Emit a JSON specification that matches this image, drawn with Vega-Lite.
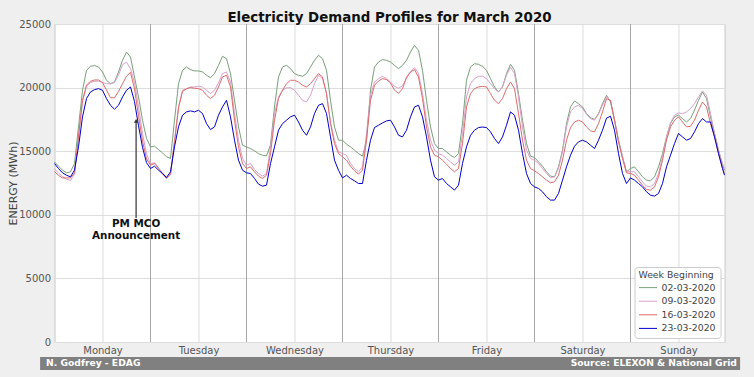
{
"$schema": "https://vega.github.io/schema/vega-lite/v6.json",
"width": 670, "height": 318,
"autosize": {"type": "none"},
"padding": {"left": 54.5, "top": 24, "right": 29.5, "bottom": 35},
"background": "#efefef",
"config": {"font": "DejaVu Sans", "view": {"fill": "white", "stroke": "#c8c8c8"}},
"title": {"text": "Electricity Demand Profiles for March 2020", "font": "DejaVu Sans", "fontSize": 13.4, "fontWeight": "bold", "color": "#111111", "anchor": "middle", "offset": -5},
"datasets": {
"demand": [
{"w":"02-03-2020","h":0,"v":14160},{"w":"02-03-2020","h":1,"v":13820},{"w":"02-03-2020","h":2,"v":13510},{"w":"02-03-2020","h":3,"v":13300},{"w":"02-03-2020","h":4,"v":13380},{"w":"02-03-2020","h":5,"v":14030},{"w":"02-03-2020","h":6,"v":16910},{"w":"02-03-2020","h":7,"v":19790},{"w":"02-03-2020","h":8,"v":21360},{"w":"02-03-2020","h":9,"v":21670},{"w":"02-03-2020","h":10,"v":21730},{"w":"02-03-2020","h":11,"v":21620},{"w":"02-03-2020","h":12,"v":21230},{"w":"02-03-2020","h":13,"v":20575},{"w":"02-03-2020","h":14,"v":20310},{"w":"02-03-2020","h":15,"v":20440},{"w":"02-03-2020","h":16,"v":21230},{"w":"02-03-2020","h":17,"v":22145},{"w":"02-03-2020","h":18,"v":22800},{"w":"02-03-2020","h":19,"v":22400},{"w":"02-03-2020","h":20,"v":20835},{"w":"02-03-2020","h":21,"v":19265},{"w":"02-03-2020","h":22,"v":17435},{"w":"02-03-2020","h":23,"v":16000},
{"w":"02-03-2020","h":24,"v":15340},{"w":"02-03-2020","h":25,"v":15390},{"w":"02-03-2020","h":26,"v":15130},{"w":"02-03-2020","h":27,"v":14870},{"w":"02-03-2020","h":28,"v":14555},{"w":"02-03-2020","h":29,"v":14425},{"w":"02-03-2020","h":30,"v":17435},{"w":"02-03-2020","h":31,"v":20310},{"w":"02-03-2020","h":32,"v":21360},{"w":"02-03-2020","h":33,"v":21620},{"w":"02-03-2020","h":34,"v":21410},{"w":"02-03-2020","h":35,"v":21310},{"w":"02-03-2020","h":36,"v":21310},{"w":"02-03-2020","h":37,"v":21230},{"w":"02-03-2020","h":38,"v":20970},{"w":"02-03-2020","h":39,"v":20785},{"w":"02-03-2020","h":40,"v":21100},{"w":"02-03-2020","h":41,"v":21750},{"w":"02-03-2020","h":42,"v":22460},{"w":"02-03-2020","h":43,"v":22275},{"w":"02-03-2020","h":44,"v":21100},{"w":"02-03-2020","h":45,"v":19000},{"w":"02-03-2020","h":46,"v":16910},{"w":"02-03-2020","h":47,"v":15470},
{"w":"02-03-2020","h":48,"v":15340},{"w":"02-03-2020","h":49,"v":15210},{"w":"02-03-2020","h":50,"v":15025},{"w":"02-03-2020","h":51,"v":14815},{"w":"02-03-2020","h":52,"v":14685},{"w":"02-03-2020","h":53,"v":14630},{"w":"02-03-2020","h":54,"v":15500},{"w":"02-03-2020","h":55,"v":18480},{"w":"02-03-2020","h":56,"v":20835},{"w":"02-03-2020","h":57,"v":21620},{"w":"02-03-2020","h":58,"v":21750},{"w":"02-03-2020","h":59,"v":21490},{"w":"02-03-2020","h":60,"v":21100},{"w":"02-03-2020","h":61,"v":20970},{"w":"02-03-2020","h":62,"v":20890},{"w":"02-03-2020","h":63,"v":21100},{"w":"02-03-2020","h":64,"v":21620},{"w":"02-03-2020","h":65,"v":22145},{"w":"02-03-2020","h":66,"v":22540},{"w":"02-03-2020","h":67,"v":22275},{"w":"02-03-2020","h":68,"v":21360},{"w":"02-03-2020","h":69,"v":19000},{"w":"02-03-2020","h":70,"v":16910},{"w":"02-03-2020","h":71,"v":15865},
{"w":"02-03-2020","h":72,"v":15865},{"w":"02-03-2020","h":73,"v":15550},{"w":"02-03-2020","h":74,"v":15340},{"w":"02-03-2020","h":75,"v":15080},{"w":"02-03-2020","h":76,"v":14815},{"w":"02-03-2020","h":77,"v":14610},{"w":"02-03-2020","h":78,"v":15865},{"w":"02-03-2020","h":79,"v":19790},{"w":"02-03-2020","h":80,"v":21620},{"w":"02-03-2020","h":81,"v":22015},{"w":"02-03-2020","h":82,"v":22200},{"w":"02-03-2020","h":83,"v":22145},{"w":"02-03-2020","h":84,"v":22015},{"w":"02-03-2020","h":85,"v":21750},{"w":"02-03-2020","h":86,"v":21490},{"w":"02-03-2020","h":87,"v":21750},{"w":"02-03-2020","h":88,"v":22145},{"w":"02-03-2020","h":89,"v":22800},{"w":"02-03-2020","h":90,"v":23320},{"w":"02-03-2020","h":91,"v":22930},{"w":"02-03-2020","h":92,"v":21360},{"w":"02-03-2020","h":93,"v":19000},{"w":"02-03-2020","h":94,"v":16910},{"w":"02-03-2020","h":95,"v":15600},
{"w":"02-03-2020","h":96,"v":15210},{"w":"02-03-2020","h":97,"v":15210},{"w":"02-03-2020","h":98,"v":14950},{"w":"02-03-2020","h":99,"v":14685},{"w":"02-03-2020","h":100,"v":14500},{"w":"02-03-2020","h":101,"v":14815},{"w":"02-03-2020","h":102,"v":17170},{"w":"02-03-2020","h":103,"v":20575},{"w":"02-03-2020","h":104,"v":21620},{"w":"02-03-2020","h":105,"v":21880},{"w":"02-03-2020","h":106,"v":21830},{"w":"02-03-2020","h":107,"v":21670},{"w":"02-03-2020","h":108,"v":21360},{"w":"02-03-2020","h":109,"v":20705},{"w":"02-03-2020","h":110,"v":20050},{"w":"02-03-2020","h":111,"v":19660},{"w":"02-03-2020","h":112,"v":20050},{"w":"02-03-2020","h":113,"v":21100},{"w":"02-03-2020","h":114,"v":21830},{"w":"02-03-2020","h":115,"v":21360},{"w":"02-03-2020","h":116,"v":19530},{"w":"02-03-2020","h":117,"v":17435},{"w":"02-03-2020","h":118,"v":15600},{"w":"02-03-2020","h":119,"v":14610},
{"w":"02-03-2020","h":120,"v":14500},{"w":"02-03-2020","h":121,"v":14160},{"w":"02-03-2020","h":122,"v":13820},{"w":"02-03-2020","h":123,"v":13380},{"w":"02-03-2020","h":124,"v":13040},{"w":"02-03-2020","h":125,"v":12985},{"w":"02-03-2020","h":126,"v":13770},{"w":"02-03-2020","h":127,"v":15080},{"w":"02-03-2020","h":128,"v":17170},{"w":"02-03-2020","h":129,"v":18480},{"w":"02-03-2020","h":130,"v":18950},{"w":"02-03-2020","h":131,"v":18740},{"w":"02-03-2020","h":132,"v":18480},{"w":"02-03-2020","h":133,"v":17960},{"w":"02-03-2020","h":134,"v":17640},{"w":"02-03-2020","h":135,"v":17490},{"w":"02-03-2020","h":136,"v":17960},{"w":"02-03-2020","h":137,"v":18740},{"w":"02-03-2020","h":138,"v":19400},{"w":"02-03-2020","h":139,"v":18870},{"w":"02-03-2020","h":140,"v":17435},{"w":"02-03-2020","h":141,"v":15865},{"w":"02-03-2020","h":142,"v":14555},{"w":"02-03-2020","h":143,"v":13380},
{"w":"02-03-2020","h":144,"v":13640},{"w":"02-03-2020","h":145,"v":13770},{"w":"02-03-2020","h":146,"v":13380},{"w":"02-03-2020","h":147,"v":12985},{"w":"02-03-2020","h":148,"v":12725},{"w":"02-03-2020","h":149,"v":12670},{"w":"02-03-2020","h":150,"v":12985},{"w":"02-03-2020","h":151,"v":13770},{"w":"02-03-2020","h":152,"v":14815},{"w":"02-03-2020","h":153,"v":16125},{"w":"02-03-2020","h":154,"v":17170},{"w":"02-03-2020","h":155,"v":17700},{"w":"02-03-2020","h":156,"v":17830},{"w":"02-03-2020","h":157,"v":17565},{"w":"02-03-2020","h":158,"v":17300},{"w":"02-03-2020","h":159,"v":17565},{"w":"02-03-2020","h":160,"v":18220},{"w":"02-03-2020","h":161,"v":19000},{"w":"02-03-2020","h":162,"v":19660},{"w":"02-03-2020","h":163,"v":19135},{"w":"02-03-2020","h":164,"v":17700},{"w":"02-03-2020","h":165,"v":16390},{"w":"02-03-2020","h":166,"v":15080},{"w":"02-03-2020","h":167,"v":13900},{"w":"02-03-2020","h":167.5,"v":13510},
{"w":"09-03-2020","h":0,"v":13600},{"w":"09-03-2020","h":1,"v":13300},{"w":"09-03-2020","h":2,"v":13000},{"w":"09-03-2020","h":3,"v":12800},{"w":"09-03-2020","h":4,"v":12700},{"w":"09-03-2020","h":5,"v":13200},{"w":"09-03-2020","h":6,"v":16000},{"w":"09-03-2020","h":7,"v":18900},{"w":"09-03-2020","h":8,"v":20100},{"w":"09-03-2020","h":9,"v":20400},{"w":"09-03-2020","h":10,"v":20500},{"w":"09-03-2020","h":11,"v":20500},{"w":"09-03-2020","h":12,"v":20400},{"w":"09-03-2020","h":13,"v":20300},{"w":"09-03-2020","h":14,"v":20300},{"w":"09-03-2020","h":15,"v":20400},{"w":"09-03-2020","h":16,"v":21000},{"w":"09-03-2020","h":17,"v":21800},{"w":"09-03-2020","h":18,"v":22000},{"w":"09-03-2020","h":19,"v":21500},{"w":"09-03-2020","h":20,"v":20400},{"w":"09-03-2020","h":21,"v":18500},{"w":"09-03-2020","h":22,"v":16400},{"w":"09-03-2020","h":23,"v":14800},
{"w":"09-03-2020","h":24,"v":14000},{"w":"09-03-2020","h":25,"v":14100},{"w":"09-03-2020","h":26,"v":13700},{"w":"09-03-2020","h":27,"v":13300},{"w":"09-03-2020","h":28,"v":12950},{"w":"09-03-2020","h":29,"v":13250},{"w":"09-03-2020","h":30,"v":15865},{"w":"09-03-2020","h":31,"v":18480},{"w":"09-03-2020","h":32,"v":19790},{"w":"09-03-2020","h":33,"v":19920},{"w":"09-03-2020","h":34,"v":20050},{"w":"09-03-2020","h":35,"v":20050},{"w":"09-03-2020","h":36,"v":20100},{"w":"09-03-2020","h":37,"v":20050},{"w":"09-03-2020","h":38,"v":19790},{"w":"09-03-2020","h":39,"v":19530},{"w":"09-03-2020","h":40,"v":19790},{"w":"09-03-2020","h":41,"v":20365},{"w":"09-03-2020","h":42,"v":21100},{"w":"09-03-2020","h":43,"v":21230},{"w":"09-03-2020","h":44,"v":20440},{"w":"09-03-2020","h":45,"v":17960},{"w":"09-03-2020","h":46,"v":15865},{"w":"09-03-2020","h":47,"v":14425},
{"w":"09-03-2020","h":48,"v":13900},{"w":"09-03-2020","h":49,"v":14030},{"w":"09-03-2020","h":50,"v":13560},{"w":"09-03-2020","h":51,"v":13250},{"w":"09-03-2020","h":52,"v":13040},{"w":"09-03-2020","h":53,"v":13250},{"w":"09-03-2020","h":54,"v":15340},{"w":"09-03-2020","h":55,"v":17960},{"w":"09-03-2020","h":56,"v":19265},{"w":"09-03-2020","h":57,"v":19790},{"w":"09-03-2020","h":58,"v":19970},{"w":"09-03-2020","h":59,"v":20000},{"w":"09-03-2020","h":60,"v":19790},{"w":"09-03-2020","h":61,"v":19400},{"w":"09-03-2020","h":62,"v":19000},{"w":"09-03-2020","h":63,"v":18870},{"w":"09-03-2020","h":64,"v":19400},{"w":"09-03-2020","h":65,"v":20310},{"w":"09-03-2020","h":66,"v":20970},{"w":"09-03-2020","h":67,"v":20705},{"w":"09-03-2020","h":68,"v":19530},{"w":"09-03-2020","h":69,"v":17300},{"w":"09-03-2020","h":70,"v":15865},{"w":"09-03-2020","h":71,"v":14945},
{"w":"09-03-2020","h":72,"v":14815},{"w":"09-03-2020","h":73,"v":14685},{"w":"09-03-2020","h":74,"v":14030},{"w":"09-03-2020","h":75,"v":13640},{"w":"09-03-2020","h":76,"v":13380},{"w":"09-03-2020","h":77,"v":13770},{"w":"09-03-2020","h":78,"v":16390},{"w":"09-03-2020","h":79,"v":19400},{"w":"09-03-2020","h":80,"v":20440},{"w":"09-03-2020","h":81,"v":20705},{"w":"09-03-2020","h":82,"v":20890},{"w":"09-03-2020","h":83,"v":20705},{"w":"09-03-2020","h":84,"v":20440},{"w":"09-03-2020","h":85,"v":20100},{"w":"09-03-2020","h":86,"v":19950},{"w":"09-03-2020","h":87,"v":20150},{"w":"09-03-2020","h":88,"v":20705},{"w":"09-03-2020","h":89,"v":21230},{"w":"09-03-2020","h":90,"v":21570},{"w":"09-03-2020","h":91,"v":21100},{"w":"09-03-2020","h":92,"v":19530},{"w":"09-03-2020","h":93,"v":17435},{"w":"09-03-2020","h":94,"v":15865},{"w":"09-03-2020","h":95,"v":15080},
{"w":"09-03-2020","h":96,"v":14815},{"w":"09-03-2020","h":97,"v":14685},{"w":"09-03-2020","h":98,"v":14425},{"w":"09-03-2020","h":99,"v":14160},{"w":"09-03-2020","h":100,"v":13900},{"w":"09-03-2020","h":101,"v":14160},{"w":"09-03-2020","h":102,"v":16390},{"w":"09-03-2020","h":103,"v":19265},{"w":"09-03-2020","h":104,"v":20310},{"w":"09-03-2020","h":105,"v":20705},{"w":"09-03-2020","h":106,"v":20890},{"w":"09-03-2020","h":107,"v":20900},{"w":"09-03-2020","h":108,"v":20705},{"w":"09-03-2020","h":109,"v":20310},{"w":"09-03-2020","h":110,"v":19920},{"w":"09-03-2020","h":111,"v":19660},{"w":"09-03-2020","h":112,"v":20050},{"w":"09-03-2020","h":113,"v":20970},{"w":"09-03-2020","h":114,"v":21600},{"w":"09-03-2020","h":115,"v":21100},{"w":"09-03-2020","h":116,"v":19265},{"w":"09-03-2020","h":117,"v":16910},{"w":"09-03-2020","h":118,"v":15080},{"w":"09-03-2020","h":119,"v":14425},
{"w":"09-03-2020","h":120,"v":14290},{"w":"09-03-2020","h":121,"v":14030},{"w":"09-03-2020","h":122,"v":13640},{"w":"09-03-2020","h":123,"v":13250},{"w":"09-03-2020","h":124,"v":12930},{"w":"09-03-2020","h":125,"v":12985},{"w":"09-03-2020","h":126,"v":13640},{"w":"09-03-2020","h":127,"v":14950},{"w":"09-03-2020","h":128,"v":16910},{"w":"09-03-2020","h":129,"v":18090},{"w":"09-03-2020","h":130,"v":18480},{"w":"09-03-2020","h":131,"v":18610},{"w":"09-03-2020","h":132,"v":18350},{"w":"09-03-2020","h":133,"v":17905},{"w":"09-03-2020","h":134,"v":17565},{"w":"09-03-2020","h":135,"v":17435},{"w":"09-03-2020","h":136,"v":17905},{"w":"09-03-2020","h":137,"v":18610},{"w":"09-03-2020","h":138,"v":19265},{"w":"09-03-2020","h":139,"v":19000},{"w":"09-03-2020","h":140,"v":17490},{"w":"09-03-2020","h":141,"v":15865},{"w":"09-03-2020","h":142,"v":14555},{"w":"09-03-2020","h":143,"v":13380},
{"w":"09-03-2020","h":144,"v":13380},{"w":"09-03-2020","h":145,"v":13380},{"w":"09-03-2020","h":146,"v":12985},{"w":"09-03-2020","h":147,"v":12590},{"w":"09-03-2020","h":148,"v":12250},{"w":"09-03-2020","h":149,"v":12200},{"w":"09-03-2020","h":150,"v":12460},{"w":"09-03-2020","h":151,"v":13250},{"w":"09-03-2020","h":152,"v":14555},{"w":"09-03-2020","h":153,"v":16125},{"w":"09-03-2020","h":154,"v":17225},{"w":"09-03-2020","h":155,"v":17830},{"w":"09-03-2020","h":156,"v":18010},{"w":"09-03-2020","h":157,"v":17960},{"w":"09-03-2020","h":158,"v":18090},{"w":"09-03-2020","h":159,"v":18350},{"w":"09-03-2020","h":160,"v":18740},{"w":"09-03-2020","h":161,"v":19265},{"w":"09-03-2020","h":162,"v":19740},{"w":"09-03-2020","h":163,"v":19400},{"w":"09-03-2020","h":164,"v":17960},{"w":"09-03-2020","h":165,"v":16390},{"w":"09-03-2020","h":166,"v":15080},{"w":"09-03-2020","h":167,"v":14030},{"w":"09-03-2020","h":167.5,"v":13640},
{"w":"16-03-2020","h":0,"v":13400},{"w":"16-03-2020","h":1,"v":13100},{"w":"16-03-2020","h":2,"v":12900},{"w":"16-03-2020","h":3,"v":12900},{"w":"16-03-2020","h":4,"v":12900},{"w":"16-03-2020","h":5,"v":13300},{"w":"16-03-2020","h":6,"v":16200},{"w":"16-03-2020","h":7,"v":19000},{"w":"16-03-2020","h":8,"v":20200},{"w":"16-03-2020","h":9,"v":20500},{"w":"16-03-2020","h":10,"v":20600},{"w":"16-03-2020","h":11,"v":20600},{"w":"16-03-2020","h":12,"v":20400},{"w":"16-03-2020","h":13,"v":19800},{"w":"16-03-2020","h":14,"v":19200},{"w":"16-03-2020","h":15,"v":19200},{"w":"16-03-2020","h":16,"v":19700},{"w":"16-03-2020","h":17,"v":20300},{"w":"16-03-2020","h":18,"v":20900},{"w":"16-03-2020","h":19,"v":21200},{"w":"16-03-2020","h":20,"v":19900},{"w":"16-03-2020","h":21,"v":17800},{"w":"16-03-2020","h":22,"v":15800},{"w":"16-03-2020","h":23,"v":14400},
{"w":"16-03-2020","h":24,"v":13900},{"w":"16-03-2020","h":25,"v":14030},{"w":"16-03-2020","h":26,"v":13640},{"w":"16-03-2020","h":27,"v":13200},{"w":"16-03-2020","h":28,"v":12850},{"w":"16-03-2020","h":29,"v":13150},{"w":"16-03-2020","h":30,"v":15700},{"w":"16-03-2020","h":31,"v":18400},{"w":"16-03-2020","h":32,"v":19700},{"w":"16-03-2020","h":33,"v":19900},{"w":"16-03-2020","h":34,"v":20000},{"w":"16-03-2020","h":35,"v":19950},{"w":"16-03-2020","h":36,"v":19920},{"w":"16-03-2020","h":37,"v":19790},{"w":"16-03-2020","h":38,"v":19400},{"w":"16-03-2020","h":39,"v":19135},{"w":"16-03-2020","h":40,"v":19400},{"w":"16-03-2020","h":41,"v":20050},{"w":"16-03-2020","h":42,"v":20835},{"w":"16-03-2020","h":43,"v":20970},{"w":"16-03-2020","h":44,"v":20050},{"w":"16-03-2020","h":45,"v":17435},{"w":"16-03-2020","h":46,"v":15340},{"w":"16-03-2020","h":47,"v":14030},
{"w":"16-03-2020","h":48,"v":13640},{"w":"16-03-2020","h":49,"v":13770},{"w":"16-03-2020","h":50,"v":13380},{"w":"16-03-2020","h":51,"v":13040},{"w":"16-03-2020","h":52,"v":12855},{"w":"16-03-2020","h":53,"v":13110},{"w":"16-03-2020","h":54,"v":14815},{"w":"16-03-2020","h":55,"v":17435},{"w":"16-03-2020","h":56,"v":19135},{"w":"16-03-2020","h":57,"v":19790},{"w":"16-03-2020","h":58,"v":20310},{"w":"16-03-2020","h":59,"v":20575},{"w":"16-03-2020","h":60,"v":20575},{"w":"16-03-2020","h":61,"v":20440},{"w":"16-03-2020","h":62,"v":20180},{"w":"16-03-2020","h":63,"v":20050},{"w":"16-03-2020","h":64,"v":20310},{"w":"16-03-2020","h":65,"v":20705},{"w":"16-03-2020","h":66,"v":21100},{"w":"16-03-2020","h":67,"v":20835},{"w":"16-03-2020","h":68,"v":19530},{"w":"16-03-2020","h":69,"v":17170},{"w":"16-03-2020","h":70,"v":15600},{"w":"16-03-2020","h":71,"v":14815},
{"w":"16-03-2020","h":72,"v":14555},{"w":"16-03-2020","h":73,"v":14290},{"w":"16-03-2020","h":74,"v":13820},{"w":"16-03-2020","h":75,"v":13460},{"w":"16-03-2020","h":76,"v":13195},{"w":"16-03-2020","h":77,"v":13510},{"w":"16-03-2020","h":78,"v":15865},{"w":"16-03-2020","h":79,"v":19000},{"w":"16-03-2020","h":80,"v":20180},{"w":"16-03-2020","h":81,"v":20525},{"w":"16-03-2020","h":82,"v":20705},{"w":"16-03-2020","h":83,"v":20630},{"w":"16-03-2020","h":84,"v":20365},{"w":"16-03-2020","h":85,"v":19800},{"w":"16-03-2020","h":86,"v":19550},{"w":"16-03-2020","h":87,"v":19900},{"w":"16-03-2020","h":88,"v":20835},{"w":"16-03-2020","h":89,"v":21230},{"w":"16-03-2020","h":90,"v":21410},{"w":"16-03-2020","h":91,"v":20835},{"w":"16-03-2020","h":92,"v":19135},{"w":"16-03-2020","h":93,"v":16910},{"w":"16-03-2020","h":94,"v":15340},{"w":"16-03-2020","h":95,"v":14685},
{"w":"16-03-2020","h":96,"v":14555},{"w":"16-03-2020","h":97,"v":14290},{"w":"16-03-2020","h":98,"v":13980},{"w":"16-03-2020","h":99,"v":13640},{"w":"16-03-2020","h":100,"v":13380},{"w":"16-03-2020","h":101,"v":13640},{"w":"16-03-2020","h":102,"v":15600},{"w":"16-03-2020","h":103,"v":18480},{"w":"16-03-2020","h":104,"v":19530},{"w":"16-03-2020","h":105,"v":19920},{"w":"16-03-2020","h":106,"v":20050},{"w":"16-03-2020","h":107,"v":20100},{"w":"16-03-2020","h":108,"v":20050},{"w":"16-03-2020","h":109,"v":19530},{"w":"16-03-2020","h":110,"v":19000},{"w":"16-03-2020","h":111,"v":18740},{"w":"16-03-2020","h":112,"v":19135},{"w":"16-03-2020","h":113,"v":19920},{"w":"16-03-2020","h":114,"v":20440},{"w":"16-03-2020","h":115,"v":19920},{"w":"16-03-2020","h":116,"v":17960},{"w":"16-03-2020","h":117,"v":15865},{"w":"16-03-2020","h":118,"v":14290},{"w":"16-03-2020","h":119,"v":13640},
{"w":"16-03-2020","h":120,"v":13460},{"w":"16-03-2020","h":121,"v":13250},{"w":"16-03-2020","h":122,"v":12985},{"w":"16-03-2020","h":123,"v":12725},{"w":"16-03-2020","h":124,"v":12515},{"w":"16-03-2020","h":125,"v":12590},{"w":"16-03-2020","h":126,"v":13110},{"w":"16-03-2020","h":127,"v":14290},{"w":"16-03-2020","h":128,"v":15865},{"w":"16-03-2020","h":129,"v":16860},{"w":"16-03-2020","h":130,"v":17300},{"w":"16-03-2020","h":131,"v":17435},{"w":"16-03-2020","h":132,"v":17300},{"w":"16-03-2020","h":133,"v":16910},{"w":"16-03-2020","h":134,"v":16600},{"w":"16-03-2020","h":135,"v":16520},{"w":"16-03-2020","h":136,"v":17170},{"w":"16-03-2020","h":137,"v":18090},{"w":"16-03-2020","h":138,"v":19135},{"w":"16-03-2020","h":139,"v":19000},{"w":"16-03-2020","h":140,"v":17435},{"w":"16-03-2020","h":141,"v":15735},{"w":"16-03-2020","h":142,"v":14425},{"w":"16-03-2020","h":143,"v":13300},
{"w":"16-03-2020","h":144,"v":13250},{"w":"16-03-2020","h":145,"v":13115},{"w":"16-03-2020","h":146,"v":12725},{"w":"16-03-2020","h":147,"v":12330},{"w":"16-03-2020","h":148,"v":11990},{"w":"16-03-2020","h":149,"v":11940},{"w":"16-03-2020","h":150,"v":12200},{"w":"16-03-2020","h":151,"v":12985},{"w":"16-03-2020","h":152,"v":14290},{"w":"16-03-2020","h":153,"v":15865},{"w":"16-03-2020","h":154,"v":16910},{"w":"16-03-2020","h":155,"v":17435},{"w":"16-03-2020","h":156,"v":17700},{"w":"16-03-2020","h":157,"v":17300},{"w":"16-03-2020","h":158,"v":16910},{"w":"16-03-2020","h":159,"v":16960},{"w":"16-03-2020","h":160,"v":17435},{"w":"16-03-2020","h":161,"v":18220},{"w":"16-03-2020","h":162,"v":18870},{"w":"16-03-2020","h":163,"v":18480},{"w":"16-03-2020","h":164,"v":17170},{"w":"16-03-2020","h":165,"v":16125},{"w":"16-03-2020","h":166,"v":14815},{"w":"16-03-2020","h":167,"v":13640},{"w":"16-03-2020","h":167.5,"v":13250},
{"w":"23-03-2020","h":0,"v":14030},{"w":"23-03-2020","h":1,"v":13640},{"w":"23-03-2020","h":2,"v":13300},{"w":"23-03-2020","h":3,"v":13110},{"w":"23-03-2020","h":4,"v":12985},{"w":"23-03-2020","h":5,"v":13510},{"w":"23-03-2020","h":6,"v":15340},{"w":"23-03-2020","h":7,"v":17700},{"w":"23-03-2020","h":8,"v":19135},{"w":"23-03-2020","h":9,"v":19660},{"w":"23-03-2020","h":10,"v":19840},{"w":"23-03-2020","h":11,"v":19920},{"w":"23-03-2020","h":12,"v":19790},{"w":"23-03-2020","h":13,"v":19135},{"w":"23-03-2020","h":14,"v":18610},{"w":"23-03-2020","h":15,"v":18300},{"w":"23-03-2020","h":16,"v":18610},{"w":"23-03-2020","h":17,"v":19265},{"w":"23-03-2020","h":18,"v":19790},{"w":"23-03-2020","h":19,"v":20050},{"w":"23-03-2020","h":20,"v":18900},{"w":"23-03-2020","h":21,"v":17000},{"w":"23-03-2020","h":22,"v":15300},{"w":"23-03-2020","h":23,"v":14100},
{"w":"23-03-2020","h":24,"v":13640},{"w":"23-03-2020","h":25,"v":13820},{"w":"23-03-2020","h":26,"v":13510},{"w":"23-03-2020","h":27,"v":13250},{"w":"23-03-2020","h":28,"v":12930},{"w":"23-03-2020","h":29,"v":13380},{"w":"23-03-2020","h":30,"v":15340},{"w":"23-03-2020","h":31,"v":16910},{"w":"23-03-2020","h":32,"v":17830},{"w":"23-03-2020","h":33,"v":18090},{"w":"23-03-2020","h":34,"v":18170},{"w":"23-03-2020","h":35,"v":18090},{"w":"23-03-2020","h":36,"v":18220},{"w":"23-03-2020","h":37,"v":17960},{"w":"23-03-2020","h":38,"v":17170},{"w":"23-03-2020","h":39,"v":16700},{"w":"23-03-2020","h":40,"v":16910},{"w":"23-03-2020","h":41,"v":17830},{"w":"23-03-2020","h":42,"v":18480},{"w":"23-03-2020","h":43,"v":19000},{"w":"23-03-2020","h":44,"v":17700},{"w":"23-03-2020","h":45,"v":15865},{"w":"23-03-2020","h":46,"v":14290},{"w":"23-03-2020","h":47,"v":13510},
{"w":"23-03-2020","h":48,"v":13300},{"w":"23-03-2020","h":49,"v":13250},{"w":"23-03-2020","h":50,"v":12855},{"w":"23-03-2020","h":51,"v":12410},{"w":"23-03-2020","h":52,"v":12250},{"w":"23-03-2020","h":53,"v":12330},{"w":"23-03-2020","h":54,"v":14030},{"w":"23-03-2020","h":55,"v":15340},{"w":"23-03-2020","h":56,"v":16650},{"w":"23-03-2020","h":57,"v":17170},{"w":"23-03-2020","h":58,"v":17435},{"w":"23-03-2020","h":59,"v":17700},{"w":"23-03-2020","h":60,"v":17830},{"w":"23-03-2020","h":61,"v":17300},{"w":"23-03-2020","h":62,"v":16650},{"w":"23-03-2020","h":63,"v":16255},{"w":"23-03-2020","h":64,"v":16910},{"w":"23-03-2020","h":65,"v":17960},{"w":"23-03-2020","h":66,"v":18610},{"w":"23-03-2020","h":67,"v":18740},{"w":"23-03-2020","h":68,"v":17960},{"w":"23-03-2020","h":69,"v":16125},{"w":"23-03-2020","h":70,"v":14290},{"w":"23-03-2020","h":71,"v":13500},
{"w":"23-03-2020","h":72,"v":12900},{"w":"23-03-2020","h":73,"v":13110},{"w":"23-03-2020","h":74,"v":12855},{"w":"23-03-2020","h":75,"v":12670},{"w":"23-03-2020","h":76,"v":12460},{"w":"23-03-2020","h":77,"v":12460},{"w":"23-03-2020","h":78,"v":14290},{"w":"23-03-2020","h":79,"v":15865},{"w":"23-03-2020","h":80,"v":16860},{"w":"23-03-2020","h":81,"v":17040},{"w":"23-03-2020","h":82,"v":17225},{"w":"23-03-2020","h":83,"v":17380},{"w":"23-03-2020","h":84,"v":17435},{"w":"23-03-2020","h":85,"v":16910},{"w":"23-03-2020","h":86,"v":16255},{"w":"23-03-2020","h":87,"v":16125},{"w":"23-03-2020","h":88,"v":16650},{"w":"23-03-2020","h":89,"v":17700},{"w":"23-03-2020","h":90,"v":18480},{"w":"23-03-2020","h":91,"v":18610},{"w":"23-03-2020","h":92,"v":17700},{"w":"23-03-2020","h":93,"v":16125},{"w":"23-03-2020","h":94,"v":14290},{"w":"23-03-2020","h":95,"v":12985},
{"w":"23-03-2020","h":96,"v":12725},{"w":"23-03-2020","h":97,"v":12855},{"w":"23-03-2020","h":98,"v":12460},{"w":"23-03-2020","h":99,"v":12200},{"w":"23-03-2020","h":100,"v":11940},{"w":"23-03-2020","h":101,"v":12330},{"w":"23-03-2020","h":102,"v":14030},{"w":"23-03-2020","h":103,"v":15340},{"w":"23-03-2020","h":104,"v":16255},{"w":"23-03-2020","h":105,"v":16650},{"w":"23-03-2020","h":106,"v":16860},{"w":"23-03-2020","h":107,"v":16900},{"w":"23-03-2020","h":108,"v":16860},{"w":"23-03-2020","h":109,"v":16520},{"w":"23-03-2020","h":110,"v":15995},{"w":"23-03-2020","h":111,"v":15600},{"w":"23-03-2020","h":112,"v":16125},{"w":"23-03-2020","h":113,"v":17040},{"w":"23-03-2020","h":114,"v":18090},{"w":"23-03-2020","h":115,"v":17830},{"w":"23-03-2020","h":116,"v":16650},{"w":"23-03-2020","h":117,"v":14815},{"w":"23-03-2020","h":118,"v":13250},{"w":"23-03-2020","h":119,"v":12460},
{"w":"23-03-2020","h":120,"v":12200},{"w":"23-03-2020","h":121,"v":12070},{"w":"23-03-2020","h":122,"v":11810},{"w":"23-03-2020","h":123,"v":11415},{"w":"23-03-2020","h":124,"v":11155},{"w":"23-03-2020","h":125,"v":11155},{"w":"23-03-2020","h":126,"v":11680},{"w":"23-03-2020","h":127,"v":12725},{"w":"23-03-2020","h":128,"v":13770},{"w":"23-03-2020","h":129,"v":14685},{"w":"23-03-2020","h":130,"v":15390},{"w":"23-03-2020","h":131,"v":15735},{"w":"23-03-2020","h":132,"v":15865},{"w":"23-03-2020","h":133,"v":15735},{"w":"23-03-2020","h":134,"v":15470},{"w":"23-03-2020","h":135,"v":15210},{"w":"23-03-2020","h":136,"v":15865},{"w":"23-03-2020","h":137,"v":16650},{"w":"23-03-2020","h":138,"v":17600},{"w":"23-03-2020","h":139,"v":17750},{"w":"23-03-2020","h":140,"v":16650},{"w":"23-03-2020","h":141,"v":14815},{"w":"23-03-2020","h":142,"v":13250},{"w":"23-03-2020","h":143,"v":12460},
{"w":"23-03-2020","h":144,"v":12900},{"w":"23-03-2020","h":145,"v":12725},{"w":"23-03-2020","h":146,"v":12460},{"w":"23-03-2020","h":147,"v":12200},{"w":"23-03-2020","h":148,"v":11810},{"w":"23-03-2020","h":149,"v":11545},{"w":"23-03-2020","h":150,"v":11470},{"w":"23-03-2020","h":151,"v":11680},{"w":"23-03-2020","h":152,"v":12460},{"w":"23-03-2020","h":153,"v":13770},{"w":"23-03-2020","h":154,"v":14685},{"w":"23-03-2020","h":155,"v":15600},{"w":"23-03-2020","h":156,"v":16390},{"w":"23-03-2020","h":157,"v":16125},{"w":"23-03-2020","h":158,"v":15865},{"w":"23-03-2020","h":159,"v":15995},{"w":"23-03-2020","h":160,"v":16520},{"w":"23-03-2020","h":161,"v":17170},{"w":"23-03-2020","h":162,"v":17565},{"w":"23-03-2020","h":163,"v":17300},{"w":"23-03-2020","h":164,"v":17300},{"w":"23-03-2020","h":165,"v":16125},{"w":"23-03-2020","h":166,"v":14815},{"w":"23-03-2020","h":167,"v":13640},{"w":"23-03-2020","h":167.5,"v":13115}
],
"days": [{"d":24},{"d":48},{"d":72},{"d":96},{"d":120},{"d":144}],
"one": [{}]
},
"layer": [
{
"data": {"name": "days"},
"mark": {"type": "rule", "color": "#a6a6a6", "strokeWidth": 1},
"encoding": {
"x": {"field": "d", "type": "quantitative", "scale": {"domain": [0, 167.5], "nice": false, "zero": false}}
}
},
{
"data": {"name": "demand"},
"mark": {"type": "line", "interpolate": "linear"},
"encoding": {
"x": {"field": "h", "type": "quantitative", "scale": {"domain": [0, 167.5], "nice": false, "zero": false},
"axis": {"title": null, "values": [12, 36, 60, 84, 108, 132, 156], "labelExpr": "datum.value < 24 ? 'Monday' : datum.value < 48 ? 'Tuesday' : datum.value < 72 ? 'Wednesday' : datum.value < 96 ? 'Thursday' : datum.value < 120 ? 'Friday' : datum.value < 144 ? 'Saturday' : 'Sunday'", "ticks": false, "domain": false, "grid": true, "gridColor": "#dddddd", "labelColor": "#555555", "labelFontSize": 10, "labelPadding": 3}},
"y": {"field": "v", "type": "quantitative", "scale": {"domain": [0, 25000], "nice": false},
"axis": {"title": "ENERGY (MWh)", "values": [0, 5000, 10000, 15000, 20000, 25000], "format": "d", "ticks": false, "domain": false, "grid": true, "gridColor": "#dddddd", "labelColor": "#555555", "labelFontSize": 10, "labelPadding": 4, "titleColor": "#444444", "titleFontWeight": "normal", "titleFontSize": 11, "titlePadding": 0}},
"color": {"field": "w", "type": "nominal", "scale": {"domain": ["02-03-2020", "09-03-2020", "16-03-2020", "23-03-2020"], "range": ["#78a078", "#d9a0cc", "#e06a6a", "#0000cc"]},
"legend": {"title": "Week Beginning", "orient": "bottom-right", "offset": 4, "fillColor": "white", "strokeColor": "#cccccc", "padding": 4, "cornerRadius": 3, "titleFontWeight": "normal", "titleFontSize": 9.3, "titleColor": "#444444", "labelFontSize": 9.3, "labelColor": "#444444", "symbolType": "M-1,0L3,0", "symbolSize": 81, "rowPadding": 2.6, "titlePadding": 2.3, "labelOffset": 13}},
"strokeWidth": {"field": "w", "type": "nominal", "scale": {"domain": ["02-03-2020", "09-03-2020", "16-03-2020", "23-03-2020"], "range": [1, 1, 1, 1.6]}}
}
},
{
"data": {"name": "one"},
"mark": {"type": "rule", "color": "#333333", "strokeWidth": 1.2},
"encoding": {"x": {"datum": 20.4, "type": "quantitative"}, "y": {"datum": 17300, "type": "quantitative"}, "y2": {"datum": 9750}}
},
{
"data": {"name": "one"},
"mark": {"type": "point", "shape": "triangle-up", "filled": true, "color": "#333333", "size": 18, "opacity": 1},
"encoding": {"x": {"datum": 20.4, "type": "quantitative"}, "y": {"datum": 17380, "type": "quantitative"}}
},
{
"data": {"name": "one"},
"mark": {"type": "text", "text": ["PM MCO", "Announcement"], "fontWeight": "bold", "fontSize": 10.4, "lineHeight": 12, "align": "center", "baseline": "top", "color": "#111111"},
"encoding": {"x": {"datum": 20.4, "type": "quantitative"}, "y": {"datum": 9650, "type": "quantitative"}}
},
{
"data": {"name": "one"},
"mark": {"type": "rect", "color": "#808080", "clip": false},
"encoding": {"x": {"datum": -3.6, "type": "quantitative"}, "x2": {"datum": 171.4}, "y": {"datum": -1170, "type": "quantitative"}, "y2": {"datum": -2200}}
},
{
"data": {"name": "one"},
"mark": {"type": "text", "text": "N. Godfrey - EDAG", "fontWeight": "bold", "fontSize": 9.2, "align": "left", "baseline": "middle", "color": "white", "clip": false},
"encoding": {"x": {"datum": -2.1, "type": "quantitative"}, "y": {"datum": -1690, "type": "quantitative"}}
},
{
"data": {"name": "one"},
"mark": {"type": "text", "text": "Source: ELEXON & National Grid", "fontWeight": "bold", "fontSize": 9.2, "align": "right", "baseline": "middle", "color": "white", "clip": false},
"encoding": {"x": {"datum": 170.6, "type": "quantitative"}, "y": {"datum": -1690, "type": "quantitative"}}
}
]
}
